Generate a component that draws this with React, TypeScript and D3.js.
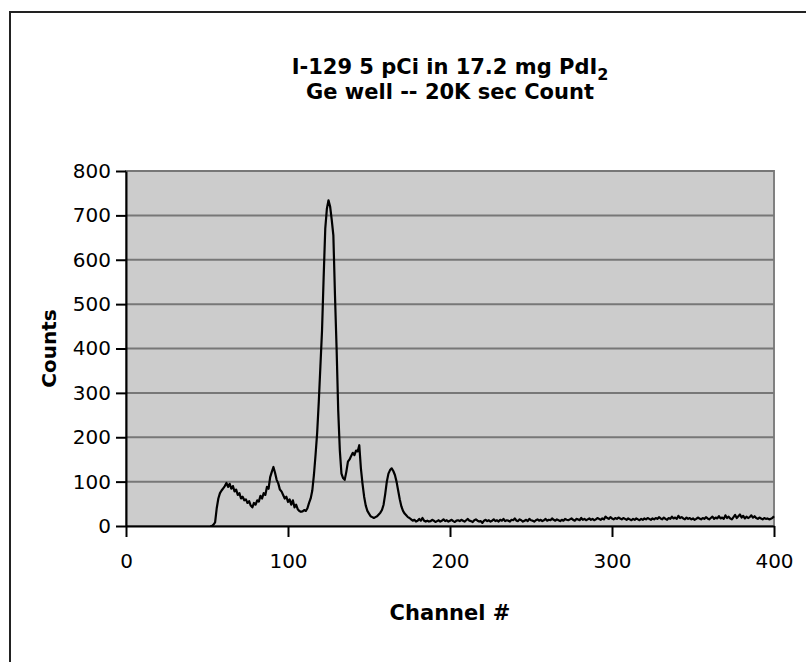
import React, { useEffect, useRef } from "react";
import { select, scaleLinear, axisLeft, axisBottom, line } from "d3";

// spectrum: counts per channel, starting at channel 52
const startChannel = 52;
const counts = [
  0, 0, 3, 8, 40, 62, 74, 80, 85, 90, 97, 88, 95, 84, 90, 78, 82, 70, 74, 62,
  66, 58, 60, 52, 56, 46, 42, 52, 48, 58, 55, 68, 62, 74, 70, 88, 84, 110, 122, 133,
  120, 104, 96, 82, 78, 70, 62, 66, 54, 60, 48, 58, 42, 48, 38, 34, 32, 33, 36, 34,
  40, 52, 62, 80, 115, 160, 210, 280, 360, 440, 560, 670, 715, 734, 720, 690, 655, 520, 400, 260,
  170, 118, 108, 104, 122, 145, 150, 158, 165, 160, 170, 168, 182, 130, 95, 66, 46, 34, 28, 22,
  20, 18, 20, 22, 26, 30, 36, 48, 72, 100, 118, 126, 130, 124, 115, 100, 80, 60, 44, 34,
  28, 24, 20, 18, 15, 12, 14, 10, 12, 16, 12, 18, 12, 10,
  12, 10, 11, 14, 12, 9, 11, 13, 10, 12, 15, 11, 13, 10, 12, 14, 11, 9, 12, 13,
  11, 14, 12, 10, 13, 16, 12, 11, 9, 13, 15, 12, 10, 11, 7, 12, 14, 11, 13, 10,
  12, 15, 11, 13, 10, 14, 12, 16, 11, 13, 12, 10, 14, 13, 17, 12, 11, 15, 13, 10,
  12, 14, 11, 16, 13, 12, 10, 13, 15, 12, 14, 11, 13, 16, 12, 14, 13, 17, 14, 12,
  15, 13, 11, 14, 12, 16, 14, 13, 15, 17, 14, 12, 16, 15, 13, 18, 14, 16, 13, 15,
  17, 14, 16, 13, 15, 18, 16, 14, 17, 15, 21, 18, 16, 20, 17, 15, 18, 16, 19, 17,
  15, 18, 16, 14, 17, 15, 13, 16, 14, 17, 15, 13, 16, 14, 17, 15, 18, 16, 14, 17,
  15, 18, 16, 20, 17, 15, 19, 16, 14, 18, 16, 21, 17, 19, 16, 23, 18, 20, 17, 15,
  19, 16, 18, 15, 17, 14, 16, 19, 17, 15, 18, 16, 20, 17, 15, 18, 21, 16, 19, 17,
  22, 17, 19, 16, 24, 18, 21, 17, 15, 20, 25, 18, 22, 26, 19, 23, 17, 21, 18, 20,
  24, 19, 22, 18, 16, 19, 17, 15, 18, 16, 17, 15, 16, 18, 22,
];

const xTicks = [0, 100, 200, 300, 400];
const yTicks = [0, 100, 200, 300, 400, 500, 600, 700, 800];
const titleLines = ["I-129 5 pCi in 17.2 mg PdI", "Ge well -- 20K sec Count"];

const W = 806;
const H = 662;
const margin = { left: 126, top: 171, right: 32, bottom: 136 };
const FONT = "DejaVu Sans, Verdana, sans-serif";

export default function App() {
  const svgRef = useRef<SVGSVGElement>(null);

  useEffect(() => {
    const svg = select(svgRef.current);
    svg.selectAll("*").remove();

    const pw = W - margin.left - margin.right;
    const ph = H - margin.top - margin.bottom;

    const x = scaleLinear().domain([0, 400]).range([0, pw]);
    const y = scaleLinear().domain([0, 800]).range([ph, 0]);

    // outer chart frame (runs off the right and bottom edges)
    svg
      .append("rect")
      .attr("x", 10)
      .attr("y", 12)
      .attr("width", W + 40)
      .attr("height", H + 40)
      .attr("fill", "#fff")
      .attr("stroke", "#222")
      .attr("stroke-width", 2);

    const g = svg.append("g").attr("transform", `translate(${margin.left},${margin.top})`);

    // plot area
    g.append("rect")
      .attr("width", pw)
      .attr("height", ph)
      .attr("fill", "#cccccc")
      .attr("stroke", "#808080")
      .attr("stroke-width", 2);

    // gridlines
    g.selectAll(".grid")
      .data(yTicks.slice(1))
      .join("line")
      .attr("class", "grid")
      .attr("x1", 0)
      .attr("x2", pw)
      .attr("y1", (d) => y(d))
      .attr("y2", (d) => y(d))
      .attr("stroke", "#777")
      .attr("stroke-width", 2);

    // spectrum line
    const lineGen = line<number>()
      .x((_, i) => x(startChannel + i))
      .y((d) => y(d));
    g.append("path")
      .datum(counts)
      .attr("d", lineGen)
      .attr("fill", "none")
      .attr("stroke", "#000")
      .attr("stroke-width", 2.2)
      .attr("stroke-linejoin", "round");

    // axes
    const yAxis = g
      .append("g")
      .call(axisLeft(y).tickValues(yTicks).tickSize(10).tickPadding(5).tickSizeOuter(0));
    const xAxis = g
      .append("g")
      .attr("transform", `translate(0,${ph})`)
      .call(axisBottom(x).tickValues(xTicks).tickSize(11).tickPadding(17).tickSizeOuter(0));

    [yAxis, xAxis].forEach((a) => {
      a.select(".domain").attr("stroke", "#000").attr("stroke-width", 2);
      a.selectAll(".tick line").attr("stroke", "#000").attr("stroke-width", 2);
      a.selectAll("text")
        .attr("fill", "#000")
        .style("font-family", FONT)
        .style("font-size", "20px");
    });

    // title
    const title = svg
      .append("text")
      .attr("text-anchor", "middle")
      .style("font-family", FONT)
      .style("font-weight", "bold")
      .style("font-size", "21px");
    const t1 = title.append("tspan").attr("x", margin.left + pw / 2).attr("y", 74);
    t1.append("tspan").text(titleLines[0]);
    t1.append("tspan").attr("dy", 6).style("font-size", "16px").text("2");
    title
      .append("tspan")
      .attr("x", margin.left + pw / 2)
      .attr("y", 99)
      .text(titleLines[1]);

    // axis titles
    svg
      .append("text")
      .attr("x", margin.left + pw / 2)
      .attr("y", 620)
      .attr("text-anchor", "middle")
      .style("font-family", FONT)
      .style("font-weight", "bold")
      .style("font-size", "21px")
      .text("Channel #");

    svg
      .append("text")
      .attr("transform", `translate(56,${margin.top + ph / 2}) rotate(-90)`)
      .attr("text-anchor", "middle")
      .style("font-family", FONT)
      .style("font-weight", "bold")
      .style("font-size", "20px")
      .text("Counts");
  }, []);

  return (
    <svg
      ref={svgRef}
      width={W}
      height={H}
      style={{ position: "absolute", left: 0, top: 0, background: "#fff" }}
    />
  );
}
